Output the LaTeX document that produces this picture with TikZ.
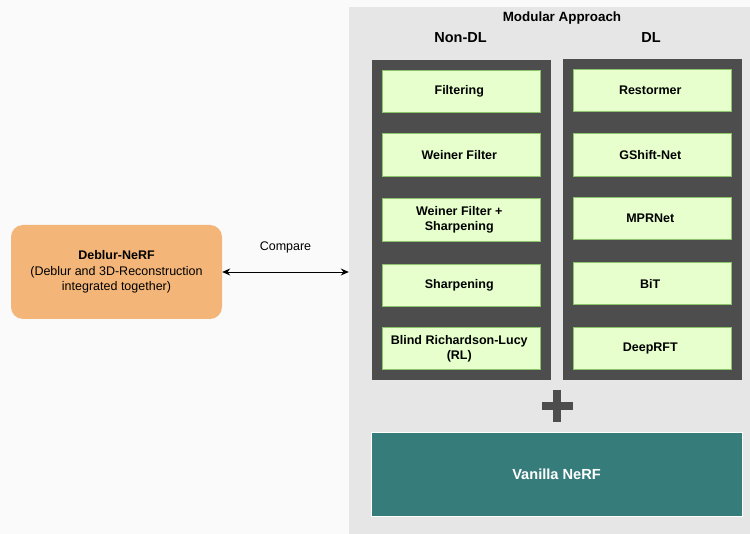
\documentclass[tikz,border=0pt]{standalone}
\usepackage{fontspec}
\setmainfont{Liberation Sans}
\usetikzlibrary{matrix,positioning,fit,backgrounds,arrows.meta}
\usepackage{xcolor}

\definecolor{pagebg}{HTML}{FAFAFA}
\definecolor{panelgray}{HTML}{E6E6E6}
\definecolor{darkcol}{HTML}{4D4D4D}
\definecolor{boxfill}{HTML}{E6FFCC}
\definecolor{boxline}{HTML}{8CC46C}
\definecolor{deblurfill}{HTML}{F4B678}
\definecolor{nerffill}{HTML}{367C7B}

\newcommand{\twoline}[2]{\begin{tabular}{@{}c@{}}#1\\[-1pt]#2\end{tabular}}

\tikzset{
  method/.style={draw=boxline, fill=boxfill, line width=0.8pt, minimum width=158.2pt, minimum height=42.2pt,
    inner sep=2pt, align=center, font=\fontsize{12.5}{16}\selectfont\bfseries},
  methodcol/.style={fill=darkcol, inner sep=10pt},
  heading/.style={font=\fontsize{13.4}{15}\selectfont\bfseries},
  subhead/.style={font=\fontsize{14.5}{16}\selectfont\bfseries},
  deblur/.style={fill=deblurfill, rounded corners=12pt, minimum width=211pt, minimum height=94pt,
    align=center, font=\fontsize{12.5}{15.5}\selectfont},
  nerf/.style={fill=nerffill, draw=white, line width=0.6pt, minimum width=371pt, minimum height=84pt,
    text=white, font=\fontsize{14.6}{16}\selectfont\bfseries},
  plus/.style={draw=darkcol, line width=8pt}
}

\begin{document}
\begin{tikzpicture}[x=1pt,y=-1pt]
\useasboundingbox (0,0) rectangle (750,534);

% methods, non-DL left and DL right
\matrix (M) [matrix of nodes, nodes=method, column sep=32pt, row sep=20.75pt] at (556.5,219.5)
{ Filtering & Restormer \\
  Weiner Filter & GShift-Net \\
  \twoline{Weiner Filter +}{Sharpening} & MPRNet \\
  Sharpening & BiT \\
  \twoline{Blind Richardson-Lucy}{(RL)} & DeepRFT \\
};

\begin{scope}[on background layer]
\fill[pagebg] (0,0) rectangle (750,534);
\node[fill=panelgray, minimum width=401pt, minimum height=527pt, inner sep=0pt] (panel) at (549.5,270.5) {};
\node[methodcol, fit=(M-1-1)(M-5-1)] (nondl) {};
\node[methodcol, fit=(M-1-2)(M-5-2)] (dl) {};
\end{scope}

\node[heading] (modular) at (562,18.5) {Modular Approach};
\node[subhead] (nondltitle) at (460.5,37.5) {Non-DL};
\node[subhead] (dltitle) at (651,37.5) {DL};

\draw[plus] (542,406) -- (573,406) (557,390) -- (557,422);
\node[nerf] (vanilla) at (556.5,474) {Vanilla NeRF};

\node[deblur] (deblur) at (116.5,272) {\textbf{Deblur-NeRF}\\(Deblur and 3D-Reconstruction\\integrated together)};

\draw[{Stealth[length=8pt,width=7pt]}-{Stealth[length=8pt,width=7pt]}, line width=0.9pt]
  (deblur.east) -- (deblur.east -| panel.west)
  node[midway, yshift=25pt, font=\fontsize{12.5}{15}\selectfont] (compare) {Compare};
\end{tikzpicture}
\end{document}
